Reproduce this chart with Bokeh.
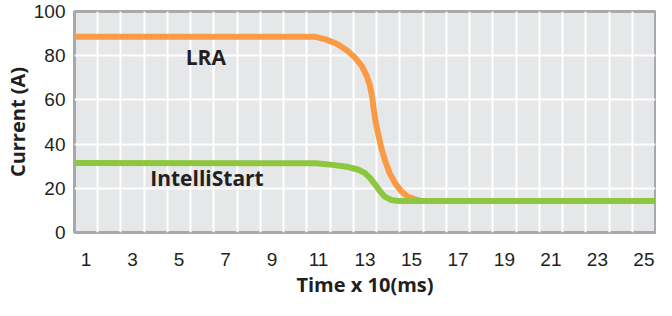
from bokeh.plotting import figure
from bokeh.models import FixedTicker, Label, Range1d
from bokeh.embed import file_html
from bokeh.resources import INLINE

# Data
time_lra = [0.5, 10.82, 11.31, 11.81, 12.23, 12.58, 12.86, 13.07, 13.21, 13.31, 13.37,
            13.45, 13.57, 13.71, 13.88, 14.06, 14.30, 14.55, 14.83, 15.11, 15.39, 25.5]
current_lra = [88.6, 88.6, 87.4, 85.3, 82.4, 79.0, 75.4, 71.0, 66.6, 61.4, 56.3,
               50.4, 44.5, 37.9, 32.0, 26.9, 22.2, 18.8, 16.3, 15.2, 14.3, 14.3]
time_is = [0.5, 10.89, 11.6, 12.3, 12.72, 13.0, 13.21, 13.43, 13.64, 13.85, 14.13, 14.41, 25.5]
current_is = [31.5, 31.3, 30.6, 29.6, 28.4, 26.9, 24.7, 21.8, 18.8, 16.2, 14.7, 14.3, 14.3]

x_ticks = [1, 3, 5, 7, 9, 11, 13, 15, 17, 19, 21, 23, 25]
y_ticks = [0, 20, 40, 60, 80, 100]
x_grid = [1.5 + i for i in range(24)]
y_grid = [20, 40, 60, 80]

ORANGE = "#f99b45"
GREEN = "#8dc63f"
TXT = "#231f20"

p = figure(width=656, height=300, output_backend="svg", toolbar_location=None,
           x_range=Range1d(0.5, 25.5), y_range=Range1d(0, 100),
           min_border_left=69, min_border_right=1, min_border_top=11, min_border_bottom=64)

p.background_fill_color = "#e6e7e8"
p.border_fill_color = "white"
p.outline_line_color = "#a7a9ac"
p.outline_line_width = 3

p.xgrid.ticker = FixedTicker(ticks=x_grid)
p.ygrid.ticker = FixedTicker(ticks=y_grid)
for g in (p.xgrid, p.ygrid):
    g.grid_line_color = "white"
    g.grid_line_width = 2

p.xaxis.ticker = FixedTicker(ticks=x_ticks)
p.yaxis.ticker = FixedTicker(ticks=y_ticks)
for ax in (p.xaxis, p.yaxis):
    ax.axis_line_color = None
    ax.major_tick_line_color = None
    ax.minor_tick_line_color = None
    ax.major_tick_out = 0
    ax.major_tick_in = 0
    ax.minor_tick_out = 0
    ax.minor_tick_in = 0
    ax.major_label_text_font = "Liberation Sans"
    ax.major_label_text_font_size = "19px"
    ax.major_label_text_color = TXT
    ax.axis_label_text_font = "Open Sans"
    ax.axis_label_text_font_style = "bold"
    ax.axis_label_text_font_size = "20px"
    ax.axis_label_text_color = TXT

p.xaxis.axis_label = "Time x 10(ms)"
p.yaxis.axis_label = "Current (A)"
p.xaxis.major_label_standoff = 20
p.xaxis.axis_label_standoff = 2
p.yaxis.major_label_standoff = 9
p.yaxis.axis_label_standoff = 0

p.line(time_lra, current_lra, line_color=ORANGE, line_width=6, line_join="round")
p.line(time_is, current_is, line_color=GREEN, line_width=6, line_join="round")

for txt, xx, yy in (("LRA", 6.15, 79.5), ("IntelliStart", 6.2, 24.8)):
    p.add_layout(Label(x=xx, y=yy, text=txt, text_align="center", text_baseline="middle",
                       text_font="Open Sans", text_font_style="bold", text_font_size="21px",
                       text_color=TXT))

open("out.html", "w").write(file_html(p, INLINE))
